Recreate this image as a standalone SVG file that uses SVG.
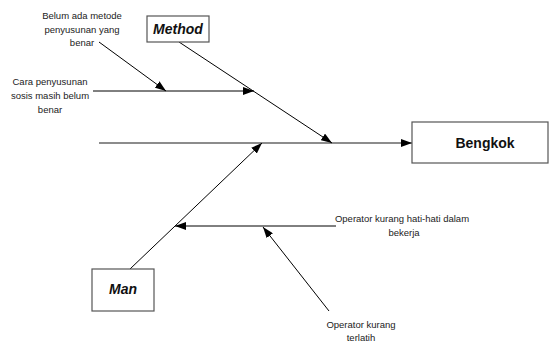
<svg xmlns="http://www.w3.org/2000/svg" width="550" height="343" viewBox="0 0 550 343">
  <style>
    .box { fill: #ffffff; stroke: #555555; stroke-width: 1.2; }
    .head { font-family: "Liberation Sans", Arial, sans-serif; font-size: 14px; font-weight: bold; font-style: italic; fill: #111111; text-anchor: middle; }
    .effect { font-family: "Liberation Sans", Arial, sans-serif; font-size: 14px; font-weight: bold; fill: #111111; text-anchor: middle; }
    .cause { font-family: "Liberation Sans", Arial, sans-serif; font-size: 9.5px; fill: #222222; text-anchor: middle; }
    .bone { stroke: #000000; stroke-width: 1; fill: none; }
    .spine { stroke: #666666; stroke-width: 1.6; fill: none; }
  </style>
  <defs>
    <marker id="arrow" viewBox="0 0 11 8" refX="11" refY="4" markerWidth="11" markerHeight="8" markerUnits="userSpaceOnUse" orient="auto">
      <path d="M0,0 L11,4 L0,8 z" fill="#000000"/>
    </marker>
  </defs>

  <rect width="550" height="343" fill="#ffffff"/>

  <!-- connectors: spine, category bones and cause arrows -->
  <g id="connectors">
    <line class="spine" x1="99" y1="143" x2="412" y2="143" marker-end="url(#arrow)"/>
    <line class="bone" x1="179" y1="42" x2="332" y2="143" marker-end="url(#arrow)"/>
    <line class="bone" x1="130" y1="269" x2="262" y2="143" marker-end="url(#arrow)"/>
    <line class="bone" x1="93" y1="91" x2="254" y2="91" marker-end="url(#arrow)"/>
    <line class="bone" x1="99" y1="42" x2="166" y2="91" marker-end="url(#arrow)"/>
    <line class="bone" x1="336" y1="226" x2="175" y2="226" marker-end="url(#arrow)"/>
    <line class="bone" x1="329" y1="311" x2="263" y2="227" marker-end="url(#arrow)"/>
  </g>

  <!-- effect -->
  <g id="bengkok">
    <rect class="box" x="412" y="122" width="136" height="41"/>
    <text class="effect" x="485" y="147.5">Bengkok</text>
  </g>

  <!-- categories -->
  <g id="method">
    <rect class="box" x="147" y="16" width="62" height="26"/>
    <text class="head" x="178" y="34">Method</text>
  </g>
  <g id="man">
    <rect class="box" x="92" y="269" width="62" height="42"/>
    <text class="head" x="123" y="294">Man</text>
  </g>

  <!-- causes -->
  <g id="cause-belum-ada-metode">
    <text class="cause" x="82" y="19">Belum ada metode</text>
    <text class="cause" x="82" y="32.7">penyusunan yang</text>
    <text class="cause" x="82" y="46.4">benar</text>
  </g>
  <g id="cause-cara-penyusunan">
    <text class="cause" x="50" y="85">Cara penyusunan</text>
    <text class="cause" x="50" y="99">sosis masih belum</text>
    <text class="cause" x="50" y="113">benar</text>
  </g>
  <g id="cause-kurang-hati-hati">
    <text class="cause" x="402" y="222">Operator kurang hati-hati dalam</text>
    <text class="cause" x="404" y="236">bekerja</text>
  </g>
  <g id="cause-kurang-terlatih">
    <text class="cause" x="361" y="327.5">Operator kurang</text>
    <text class="cause" x="361" y="341">terlatih</text>
  </g>
</svg>
